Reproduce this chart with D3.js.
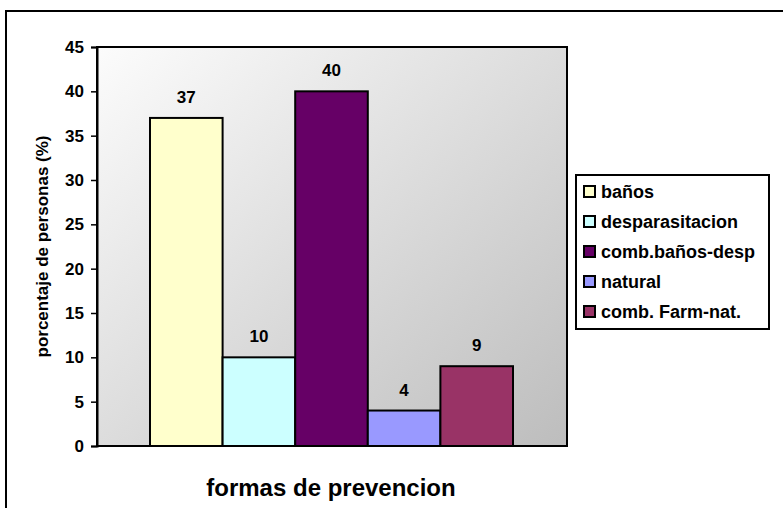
<!DOCTYPE html>
<html>
<head>
<meta charset="utf-8">
<script src="https://cdn.jsdelivr.net/npm/d3@7"></script>
<style>
  html, body { margin: 0; padding: 0; background: #fff; }
  svg { display: block; }
  text { font-family: "Liberation Sans", Arial, sans-serif; font-weight: bold; fill: #000; }
</style>
</head>
<body>
<svg id="chart" width="783" height="508"></svg>
<script>
// Data: share of people by prevention method
const series = ["baños", "desparasitacion", "comb.baños-desp", "natural", "comb. Farm-nat."];
const values = [37, 10, 40, 4, 9];
const colors = ["#FFFFCC", "#CCFFFF", "#660066", "#9999FF", "#993366"];
const yTicks = [0, 5, 10, 15, 20, 25, 30, 35, 40, 45];
const yTitle = "porcentaje de personas (%)";
const xTitle = "formas de prevencion";

const svg = d3.select("#chart");

// Outer chart frame (runs off the right and bottom edges)
svg.append("rect")
  .attr("x", 6).attr("y", 11)
  .attr("width", 800).attr("height", 520)
  .attr("fill", "#fff").attr("stroke", "#000").attr("stroke-width", 2);

const plot = { left: 97, top: 47, right: 567, bottom: 446 };

const y = d3.scaleLinear().domain([0, 45]).range([plot.bottom, plot.top]);
const x = d3.scaleBand().domain(series).range([150, 513]).padding(0);

// Plot area background: diagonal gray gradient
const defs = svg.append("defs");
const grad = defs.append("linearGradient")
  .attr("id", "plotBg").attr("x1", "0%").attr("y1", "0%").attr("x2", "100%").attr("y2", "100%");
grad.append("stop").attr("offset", "0%").attr("stop-color", "#fcfcfc");
grad.append("stop").attr("offset", "100%").attr("stop-color", "#bdbdbd");

svg.append("rect")
  .attr("x", plot.left).attr("y", plot.top)
  .attr("width", plot.right - plot.left).attr("height", plot.bottom - plot.top)
  .attr("fill", "url(#plotBg)").attr("stroke", "#000").attr("stroke-width", 2);

// Bars
svg.append("g").selectAll("rect")
  .data(values)
  .join("rect")
  .attr("x", (d, i) => x(series[i]))
  .attr("y", d => y(d))
  .attr("width", x.bandwidth())
  .attr("height", d => y(0) - y(d))
  .attr("fill", (d, i) => colors[i])
  .attr("stroke", "#000").attr("stroke-width", 2);

// Value labels above bars
svg.append("g").selectAll("text")
  .data(values)
  .join("text")
  .attr("x", (d, i) => x(series[i]) + x.bandwidth() / 2)
  .attr("y", d => y(d) - 15)
  .attr("text-anchor", "middle")
  .style("font-size", "17px")
  .text(d => d);

// Y axis
const yAxis = svg.append("g")
  .attr("transform", `translate(${plot.left},0)`)
  .call(d3.axisLeft(y).tickValues(yTicks).tickSize(6).tickPadding(7));
yAxis.select(".domain").attr("stroke", "#000").attr("stroke-width", 2);
yAxis.selectAll(".tick line").attr("stroke", "#000").attr("stroke-width", 1.5);
yAxis.selectAll(".tick text")
  .style("font-family", "'Liberation Sans', Arial, sans-serif")
  .style("font-weight", "bold").style("font-size", "17px").attr("fill", "#000");

// Axis titles
svg.append("text")
  .attr("transform", `translate(48,${(plot.top + plot.bottom) / 2}) rotate(-90)`)
  .attr("text-anchor", "middle")
  .style("font-size", "17px")
  .text(yTitle);

svg.append("text")
  .attr("x", 331).attr("y", 496)
  .attr("text-anchor", "middle")
  .style("font-size", "24px")
  .text(xTitle);

// Legend
const legend = svg.append("g");
legend.append("rect")
  .attr("x", 576).attr("y", 175).attr("width", 193).attr("height", 154)
  .attr("fill", "#fff").attr("stroke", "#000").attr("stroke-width", 2);

const item = legend.selectAll("g.item")
  .data(series)
  .join("g")
  .attr("class", "item")
  .attr("transform", (d, i) => `translate(584,${192 + i * 30})`);
item.append("rect")
  .attr("x", 0).attr("y", -6).attr("width", 11).attr("height", 11)
  .attr("fill", (d, i) => colors[i]).attr("stroke", "#000").attr("stroke-width", 2);
item.append("text")
  .attr("x", 17).attr("y", 6)
  .style("font-size", "18px")
  .text(d => d);
</script>
</body>
</html>
